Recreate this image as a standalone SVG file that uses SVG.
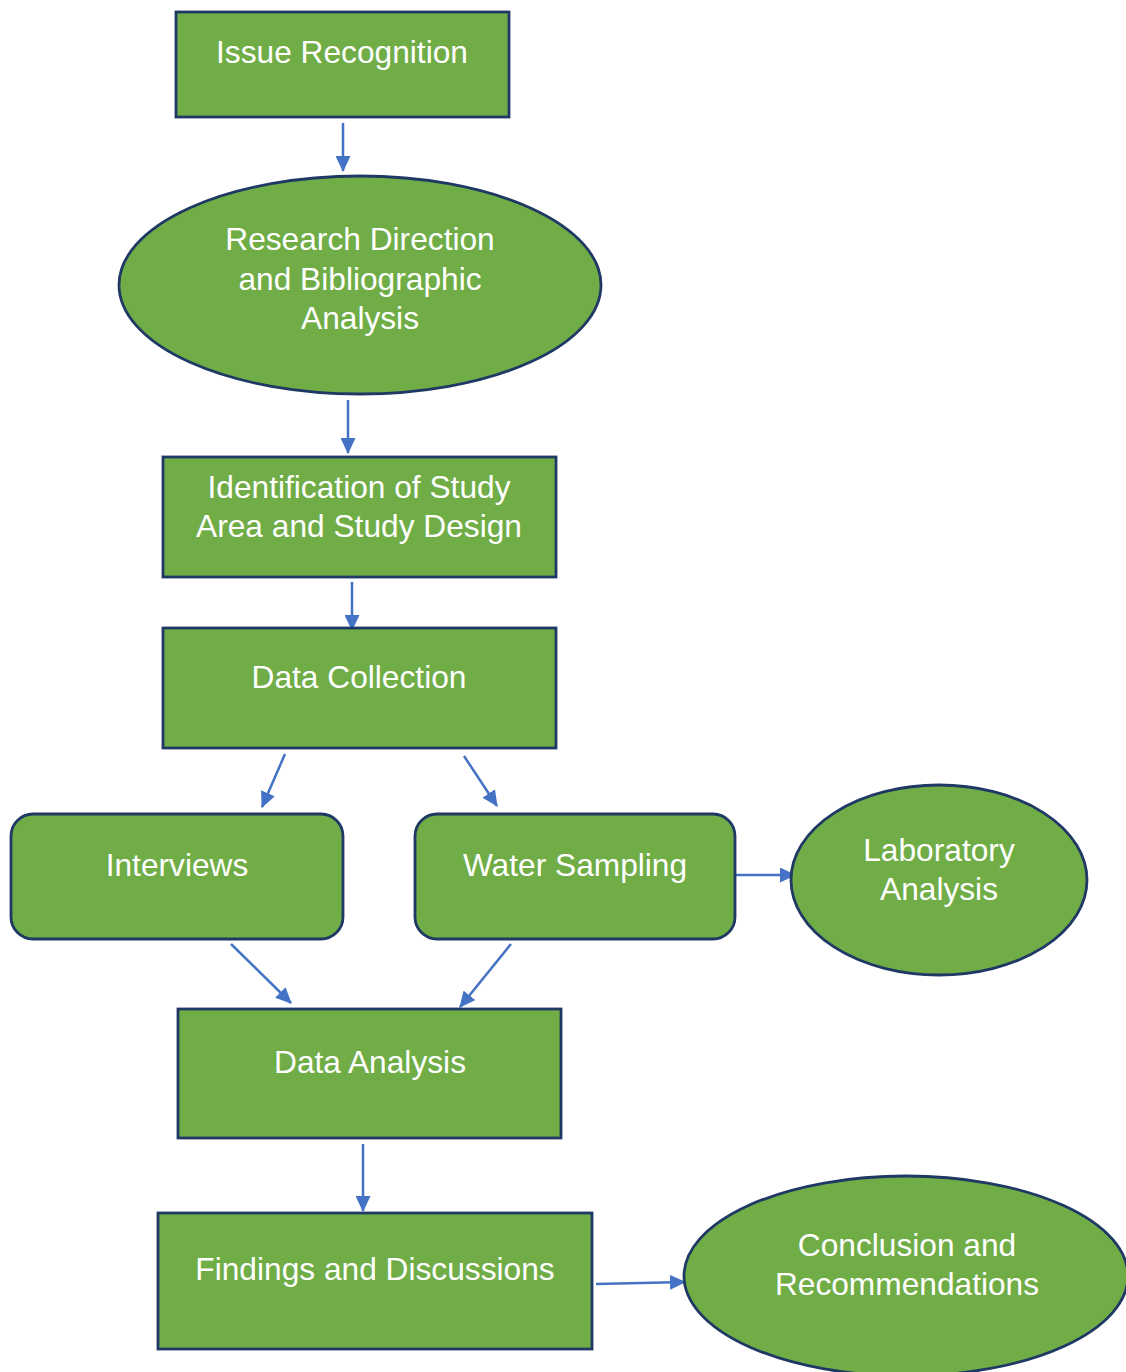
<svg xmlns="http://www.w3.org/2000/svg" width="1126" height="1372" viewBox="0 0 1126 1372">
<style>
.n{fill:#70AD47;stroke:#1F3864;stroke-width:2.8}
.t{fill:#FFFFFF;font-family:"Liberation Sans",Arial,sans-serif;font-size:31.7px;text-anchor:middle}
.c{stroke:#4472C4;stroke-width:2.5;fill:none;marker-end:url(#ah)}
</style>
<defs>
<marker id="ah" markerUnits="userSpaceOnUse" markerWidth="17" markerHeight="15" refX="15" refY="7.5" orient="auto">
<path d="M0,0 L16,7.5 L0,15 Z" fill="#4472C4"/>
</marker>
</defs>
<rect width="1126" height="1372" fill="#FFFFFF"/>
<g id="connectors">
<line class="c" x1="343" y1="123" x2="343" y2="171"/>
<line class="c" x1="348" y1="400" x2="348" y2="453"/>
<line class="c" x1="352" y1="582" x2="352" y2="630"/>
<line class="c" x1="285" y1="754" x2="262" y2="807"/>
<line class="c" x1="464" y1="756" x2="497" y2="806"/>
<line class="c" x1="736" y1="875" x2="795" y2="875"/>
<line class="c" x1="231" y1="944" x2="291" y2="1003"/>
<line class="c" x1="511" y1="944" x2="460" y2="1007"/>
<line class="c" x1="363" y1="1144" x2="363" y2="1211"/>
<line class="c" x1="596" y1="1284" x2="685" y2="1282"/>
</g>
<g id="issue-recognition">
<rect class="n" x="176" y="12" width="333" height="105"/>
<text class="t" x="342" y="63">Issue Recognition</text>
</g>
<g id="research-direction">
<ellipse class="n" cx="360" cy="285" rx="241" ry="109"/>
<text class="t" x="360" y="250">Research Direction</text>
<text class="t" x="360" y="290">and Bibliographic</text>
<text class="t" x="360" y="329">Analysis</text>
</g>
<g id="identification">
<rect class="n" x="163" y="457" width="393" height="120"/>
<text class="t" x="359" y="498">Identification of Study</text>
<text class="t" x="359" y="537">Area and Study Design</text>
</g>
<g id="data-collection">
<rect class="n" x="163" y="628" width="393" height="120"/>
<text class="t" x="359" y="688">Data Collection</text>
</g>
<g id="interviews">
<rect class="n" x="11" y="814" width="332" height="125" rx="22"/>
<text class="t" x="177" y="876">Interviews</text>
</g>
<g id="water-sampling">
<rect class="n" x="415" y="814" width="320" height="125" rx="22"/>
<text class="t" x="575" y="876">Water Sampling</text>
</g>
<g id="laboratory-analysis">
<ellipse class="n" cx="939" cy="880" rx="148" ry="95"/>
<text class="t" x="939" y="861">Laboratory</text>
<text class="t" x="939" y="900">Analysis</text>
</g>
<g id="data-analysis">
<rect class="n" x="178" y="1009" width="383" height="129"/>
<text class="t" x="370" y="1073">Data Analysis</text>
</g>
<g id="findings">
<rect class="n" x="158" y="1213" width="434" height="136"/>
<text class="t" x="375" y="1280">Findings and Discussions</text>
</g>
<g id="conclusion">
<ellipse class="n" cx="906" cy="1276" rx="222" ry="100"/>
<text class="t" x="907" y="1256">Conclusion and</text>
<text class="t" x="907" y="1295">Recommendations</text>
</g>
</svg>
